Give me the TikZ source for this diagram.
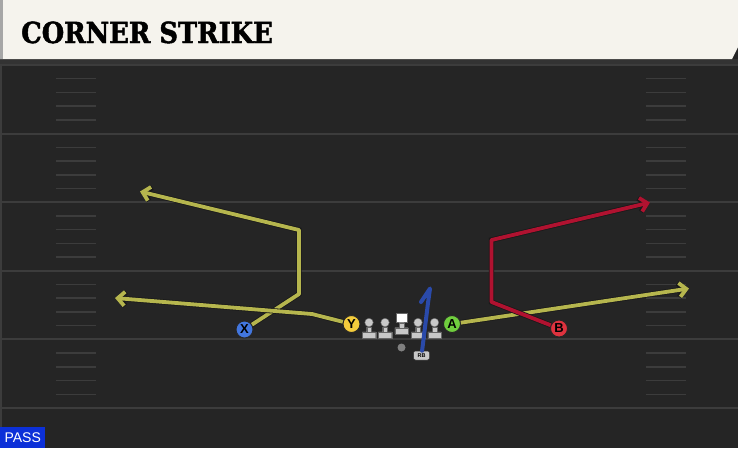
\documentclass[tikz,border=0pt]{standalone}
\usepackage{fontspec}
\setsansfont{Liberation Sans}
\newfontfamily\titlefont{DejaVu Serif}[FakeStretch=0.89, BoldFeatures={FakeBold=1.6}]
\usepackage{tikz}
\usetikzlibrary{positioning, calc, arrows.meta}
\definecolor{field}{RGB}{37,37,37}
\definecolor{yardline}{RGB}{60,60,60}
\definecolor{header}{RGB}{245,243,237}
\definecolor{routeyellow}{RGB}{182,182,78}
\definecolor{routered}{RGB}{176,18,48}
\definecolor{routeblue}{RGB}{42,74,170}
\definecolor{xblue}{RGB}{66,118,222}
\definecolor{yyellow}{RGB}{244,204,60}
\definecolor{agreen}{RGB}{112,206,62}
\definecolor{bred}{RGB}{222,50,62}
\definecolor{linemangray}{RGB}{200,200,200}
\definecolor{passblue}{RGB}{12,48,216}
\tikzstyle{player}=[circle, draw=black!85, line width=0.9pt, minimum size=17pt, inner sep=0pt, font=\sffamily\bfseries\fontsize{13}{13}\selectfont]
\tikzstyle{every lineman}=[circle, fill=linemangray, draw=black!60, line width=0.4pt, minimum size=8.5pt, inner sep=0pt]
\tikzstyle{lineman 3}=[rectangle, fill=white, minimum width=10.5pt, minimum height=9pt]
\tikzstyle{yard}=[yardline, line width=2pt]
\tikzstyle{hash}=[yardline, line width=1.5pt]
\tikzstyle{route}=[line width=3.8pt, line join=round, preaction={draw=black!90, line width=5.4pt}]
\tikzstyle{arrow}=[-{Straight Barb[length=7pt, width=14pt]}]

\begin{document}
\begin{tikzpicture}[x=1pt, y=-1pt]
    \useasboundingbox (0,0) rectangle (738,448);
    \fill[field] (0,0) rectangle (738,448);
    \fill[yardline] (0,59) rectangle (2,448);

    \foreach \k in {0,...,5}
    \draw[yard] (0,65+68.6*\k) -- (738,65+68.6*\k);

    \foreach \k in {0,...,4}
    \foreach \j in {1,...,4}
    \draw[hash] (56,65+68.6*\k+13.72*\j) -- (96,65+68.6*\k+13.72*\j)
                (646,65+68.6*\k+13.72*\j) -- (686,65+68.6*\k+13.72*\j);

    % header
    \fill[black!80] (0,59) rectangle (738,64);
    \fill[header] (0,0) -- (738,0) -- (738,47) -- (732,59) -- (0,59) -- cycle;
    \fill[black!35] (0,0) rectangle (3,59);
    \node[anchor=base west, inner sep=0pt, font=\titlefont\bfseries\fontsize{29}{29}\selectfont] (title) at (21,43) {CORNER STRIKE};

    \node[anchor=south west, fill=passblue, text=white, minimum width=45pt, minimum height=20.5pt, inner sep=0pt, font=\sffamily\fontsize{14}{14}\selectfont] (pass) at (0,448) {PASS};

    % offensive line
    \foreach \m/\x/\y in {1/369/322.5, 2/385/322.5, 3/401.5/318, 4/418/322.5, 5/434.5/322.5}
    \node [every lineman/.try, lineman \m/.try] (ol-\m) at (\x,\y) {};

    \foreach \m in {1,...,5}
    \filldraw[fill=linemangray, draw=black!60, line width=0.4pt]
        ($(ol-\m.south)+(-2.3,0)$) rectangle ++(4.6,5)
        ($(ol-\m.south)+(-6.7,5)$) rectangle ++(13.4,6.5);

    \node[circle, fill=black!50, minimum size=8pt, inner sep=0pt] (QB) at (401.5,347.5) {};
    \node[rectangle, rounded corners=2pt, fill=linemangray, draw=black!80, line width=0.5pt, minimum width=16pt, minimum height=9pt, inner sep=0pt, font=\sffamily\bfseries\fontsize{5.5}{5.5}\selectfont] (RB) at (421.5,355.5) {RB};

    \node[player, fill=xblue] (X) at (244.5,329.5) {X};
    \node[player, fill=yyellow] (Y) at (351.5,324) {Y};
    \node[player, fill=agreen] (A) at (452,324) {A};
    \node[player, fill=bred] (B) at (559,328.5) {B};

    % routes
    \coordinate (x-cut) at (299,294);
    \coordinate (x-break) at (299,230);
    \coordinate (x-end) at (140,191.5);
    \coordinate (y-bend) at (312,314);
    \coordinate (y-end) at (115,298);
    \coordinate (a-end) at (689,288.5);
    \coordinate (b-cut) at (491.5,302);
    \coordinate (b-break) at (491.5,240);
    \coordinate (b-end) at (650,202.5);
    \coordinate (rb-up) at (428,303);
    \coordinate (rb-top) at (430,288.5);
    \coordinate (rb-hook) at (421,302);

    \draw[route, arrow, routeyellow] (X) -- (x-cut) -- (x-break) -- (x-end);
    \draw[route, arrow, routeyellow] (Y) -- (y-bend) -- (y-end);
    \draw[route, arrow, routeyellow] (A) -- (a-end);
    \draw[route, arrow, routered] (B) -- (b-cut) -- (b-break) -- (b-end);
    \draw[routeblue, line width=4pt, line join=round, line cap=round] (RB) -- (rb-up) -- (rb-top) -- (rb-hook);

\end{tikzpicture}
\end{document}
